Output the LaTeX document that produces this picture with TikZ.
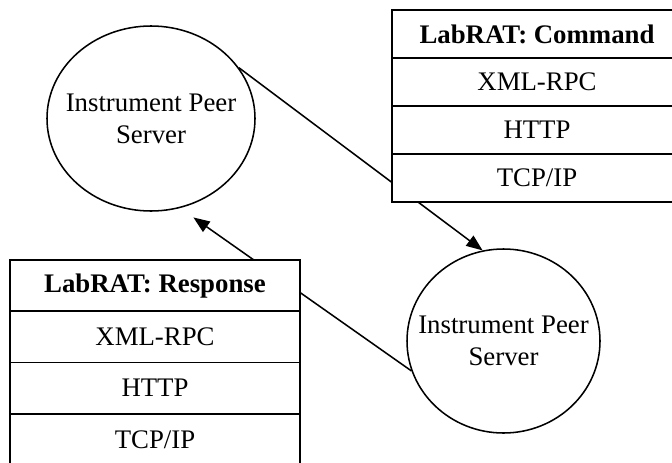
\documentclass[tikz,border=0pt]{standalone}
\usepackage{fontspec}
\setmainfont{Liberation Serif}
\usepackage{tikz}
\usetikzlibrary{shapes.geometric, arrows.meta}
\tikzset{
    every node/.style={draw, line width=0.7pt, inner sep=0pt,
    	font=\fontsize{12.2}{14.6}\selectfont}
}
\tikzset{
    peer/.style={ellipse, align=center, inner xsep=-0.3cm},
    layer/.style={rectangle, fill=white, line width=0.9pt, minimum width=4.64cm},
    head/.style={layer, font=\fontsize{12.2}{14.6}\selectfont\bfseries}
}
\tikzset{
	every edge/.append style={line width=0.7pt, -{Triangle[length=0.26cm, width=0.2cm]}}
}

\begin{document}
\begin{tikzpicture}
	\useasboundingbox (0cm, 0cm) rectangle (10.752cm, 7.392cm);
	\node (1) [peer, minimum width=3.328cm, minimum height=2.96cm] at (2.416cm, 5.496cm) {Instrument Peer\\Server};
	\node (2) [peer, minimum width=3.088cm, minimum height=2.944cm] at (8.056cm, 1.936cm) {Instrument Peer\\Server};
	
	\draw (1.30) edge (2.103);
	\draw (2.198) edge [shorten >=0.26cm] (1.288);
	
	\node (3) [head, minimum height=0.768cm] at (8.592cm, 6.848cm) {LabRAT: Command};
	\node (4) [layer, minimum height=0.768cm] at (8.592cm, 6.080cm) {XML-RPC};
	\node (5) [layer, minimum height=0.768cm] at (8.592cm, 5.312cm) {HTTP};
	\node (6) [layer, minimum height=0.768cm] at (8.592cm, 4.544cm) {TCP/IP};
	
	\node (7) [head, minimum height=0.82cm] at (2.48cm, 2.822cm) {LabRAT: Response};
	\node (8) [layer, minimum height=0.82cm] at (2.48cm, 2.002cm) {XML-RPC};
	\node (9) [layer, minimum height=0.82cm] at (2.48cm, 1.182cm) {HTTP};
	\node (10) [layer, minimum height=0.82cm] at (2.48cm, 0.362cm) {TCP/IP};
\end{tikzpicture}
\end{document}
